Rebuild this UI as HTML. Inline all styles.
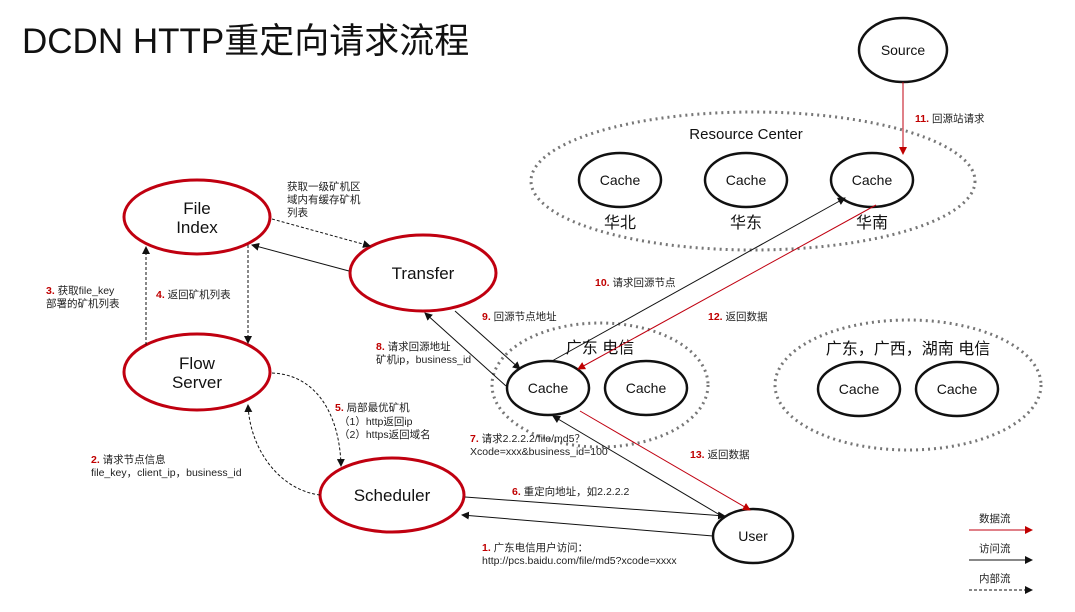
<!DOCTYPE html>
<html><head><meta charset="utf-8"><style>
body{margin:0;background:#fff}
svg{display:block;font-family:"Liberation Sans","Noto Sans CJK SC",sans-serif}
.s{font-size:10.5px;fill:#222}
.n{fill:#c00000;font-weight:bold}
</style></head><body>
<svg width="1075" height="612" viewBox="0 0 1075 612">
<defs>
<marker id="a" markerWidth="8" markerHeight="8" refX="7" refY="4" orient="auto" markerUnits="userSpaceOnUse"><path d="M0,0 L8,4 L0,8z" fill="#111"/></marker>
<marker id="r" markerWidth="8" markerHeight="8" refX="7" refY="4" orient="auto" markerUnits="userSpaceOnUse"><path d="M0,0 L8,4 L0,8z" fill="#c00000"/></marker>
</defs>
<text x="22" y="53" font-size="35" fill="#111">DCDN HTTP重定向请求流程</text>

<ellipse cx="753" cy="181" rx="222" ry="69" fill="none" stroke="#777" stroke-width="3" stroke-dasharray="2 4"/>
<ellipse cx="600" cy="385" rx="108" ry="62" fill="none" stroke="#777" stroke-width="3" stroke-dasharray="2 4"/>
<ellipse cx="908" cy="385" rx="133" ry="65" fill="none" stroke="#777" stroke-width="3" stroke-dasharray="2 4"/>
<text x="746" y="139" text-anchor="middle" font-size="15" fill="#111">Resource Center</text>
<text x="600" y="353" text-anchor="middle" font-size="16" fill="#111">广东 电信</text>
<text x="908" y="354" text-anchor="middle" font-size="16" fill="#111">广东，广西，湖南 电信</text>

<g fill="none" stroke="#c00010" stroke-width="3">
<ellipse cx="197" cy="217" rx="73" ry="37"/>
<ellipse cx="423" cy="273" rx="73" ry="38"/>
<ellipse cx="197" cy="372" rx="73" ry="38"/>
<ellipse cx="392" cy="495" rx="72" ry="37"/>
</g>
<g font-size="17" fill="#111" text-anchor="middle">
<text x="197" y="214">File</text><text x="197" y="233">Index</text>
<text x="423" y="279">Transfer</text>
<text x="197" y="369">Flow</text><text x="197" y="388">Server</text>
<text x="392" y="501">Scheduler</text>
</g>

<g fill="#fff" stroke="#111" stroke-width="2.5">
<ellipse cx="903" cy="50" rx="44" ry="32"/>
<ellipse cx="620" cy="180" rx="41" ry="27"/>
<ellipse cx="746" cy="180" rx="41" ry="27"/>
<ellipse cx="872" cy="180" rx="41" ry="27"/>
<ellipse cx="548" cy="388" rx="41" ry="27"/>
<ellipse cx="646" cy="388" rx="41" ry="27"/>
<ellipse cx="859" cy="389" rx="41" ry="27"/>
<ellipse cx="957" cy="389" rx="41" ry="27"/>
<ellipse cx="753" cy="536" rx="40" ry="27"/>
</g>
<g font-size="14" fill="#111" text-anchor="middle">
<text x="903" y="55">Source</text>
<text x="620" y="185">Cache</text><text x="746" y="185">Cache</text><text x="872" y="185">Cache</text>
<text x="548" y="393">Cache</text><text x="646" y="393">Cache</text>
<text x="859" y="394">Cache</text><text x="957" y="394">Cache</text>
<text x="753" y="541">User</text>
<text x="620" y="228" font-size="16">华北</text><text x="746" y="228" font-size="16">华东</text><text x="872" y="228" font-size="16">华南</text>
</g>

<g fill="none" stroke="#111" stroke-width="1">
<path d="M272,219 L370,246" stroke-dasharray="3 2" marker-end="url(#a)"/>
<path d="M349,271 L252,245" marker-end="url(#a)"/>
<path d="M146,345 L146,247" stroke-dasharray="3 2" marker-end="url(#a)"/>
<path d="M248,245 L248,343" stroke-dasharray="3 2" marker-end="url(#a)"/>
<path d="M272,373 C320,375 340,420 341,466" stroke-dasharray="3 2" marker-end="url(#a)"/>
<path d="M320,495 C280,490 250,450 248,405" stroke-dasharray="3 2" marker-end="url(#a)"/>
<path d="M465,497 L725,516" marker-end="url(#a)"/>
<path d="M713,536 L462,515" marker-end="url(#a)"/>
<path d="M725,518 L553,416" marker-end="url(#a)"/>
<path d="M506,386 L425,313" marker-end="url(#a)"/>
<path d="M455,311 L520,369" marker-end="url(#a)"/>
<path d="M552,361 L845,198" marker-end="url(#a)"/>
</g>
<g fill="none" stroke="#c00010" stroke-width="1">
<path d="M903,82 L903,154" marker-end="url(#r)"/>
<path d="M876,205 L578,369" marker-end="url(#r)"/>
<path d="M580,411 L750,510" marker-end="url(#r)"/>
</g>

<g class="s">
<text x="287" y="190">获取一级矿机区</text>
<text x="287" y="203">域内有缓存矿机</text>
<text x="287" y="216">列表</text>
<text x="46" y="294"><tspan class="n">3.</tspan> 获取file_key</text>
<text x="46" y="307">部署的矿机列表</text>
<text x="156" y="298"><tspan class="n">4.</tspan> 返回矿机列表</text>
<text x="915" y="122"><tspan class="n">11.</tspan> 回源站请求</text>
<text x="595" y="286"><tspan class="n">10.</tspan> 请求回源节点</text>
<text x="708" y="320"><tspan class="n">12.</tspan> 返回数据</text>
<text x="482" y="320"><tspan class="n">9.</tspan> 回源节点地址</text>
<text x="376" y="350"><tspan class="n">8.</tspan> 请求回源地址</text>
<text x="376" y="363">矿机ip，business_id</text>
<text x="335" y="411"><tspan class="n">5.</tspan> 局部最优矿机</text>
<text x="339" y="425">（1）http返回ip</text>
<text x="339" y="438">（2）https返回域名</text>
<text x="470" y="442"><tspan class="n">7.</tspan> 请求2.2.2.2/file/md5？</text>
<text x="470" y="455">Xcode=xxx&amp;business_id=100</text>
<text x="690" y="458"><tspan class="n">13.</tspan> 返回数据</text>
<text x="91" y="463"><tspan class="n">2.</tspan> 请求节点信息</text>
<text x="91" y="476">file_key，client_ip，business_id</text>
<text x="512" y="495"><tspan class="n">6.</tspan> 重定向地址，如2.2.2.2</text>
<text x="482" y="551"><tspan class="n">1.</tspan> 广东电信用户访问：</text>
<text x="482" y="564">http://pcs.baidu.com/file/md5?xcode=xxxx</text>
<text x="979" y="522">数据流</text>
<text x="979" y="552">访问流</text>
<text x="979" y="582">内部流</text>
</g>
<path d="M969,530 L1032,530" stroke="#c00010" stroke-width="1" marker-end="url(#r)"/>
<path d="M969,560 L1032,560" stroke="#111" stroke-width="1" marker-end="url(#a)"/>
<path d="M969,590 L1032,590" stroke="#111" stroke-width="1" stroke-dasharray="3 2" marker-end="url(#a)"/>
</svg>
</body></html>
